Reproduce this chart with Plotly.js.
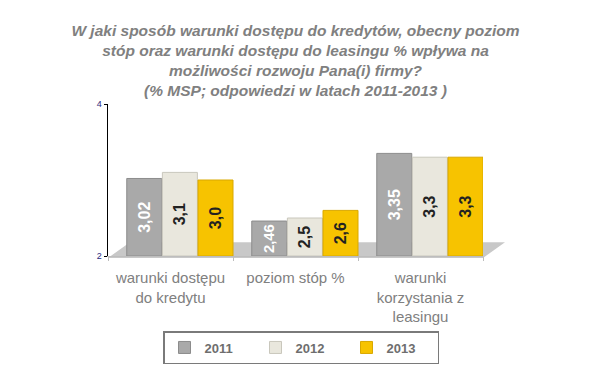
<!DOCTYPE html>
<html><head><meta charset="utf-8">
<script src="https://cdn.plot.ly/plotly-3.0.1.min.js"></script>
<style>html,body{margin:0;padding:0;background:#fff}</style>
</head><body><div id="chart" style="width:600px;height:376px"></div>
<script>
const categories = ['warunki dostępu<br>do kredytu', 'poziom stóp %', 'warunki<br>korzystania z<br>leasingu'];
const series = ['2011', '2012', '2013'];
const labels2011 = ['3,02', '2,46', '3,35'];
const labels2012 = ['3,1', '2,5', '3,3'];
const labels2013 = ['3,0', '2,6', '3,3'];
const yTicks = [2, 4];
const axisBase = 2;

const num = s => parseFloat(s.replace(',', '.'));
const colors = ['#a9a9a9', '#e9e7dd', '#f7c300'];
const lines = ['#8c8c8c', '#c9c7bc', '#d9a800'];
const textColors = ['#ffffff', '#222222', '#222222'];
const offsets = [-0.35, -0.065, 0.22];
const allLabels = [labels2011, labels2012, labels2013];

const traces = series.map((name, i) => ({
  type: 'bar', name: name, x: categories,
  base: axisBase,
  y: allLabels[i].map(s => num(s) - axisBase), text: allLabels[i],
  textposition: 'inside', insidetextanchor: 'middle', textangle: -90,
  textfont: {family: 'Liberation Sans, Arial, sans-serif', size: 16, color: textColors[i], weight: 'bold'},
  marker: {color: colors[i], line: {color: lines[i], width: 1}},
  width: 0.28, offset: offsets[i], hoverinfo: 'skip'
}));

const T = 104, B = 118, H = 376 - T - B;
const px = v => (v - 108) / 375, py = v => (376 - B - v) / H;
const floor = `M ${px(108)} ${py(260)} L ${px(483)} ${py(260)} L ${px(505)} ${py(244)} L ${px(130)} ${py(244)} Z`;

const layout = {
  width: 600, height: 376,
  margin: {l: 108, r: 117, t: T, b: B},
  paper_bgcolor: '#ffffff', plot_bgcolor: 'rgba(0,0,0,0)',
  title: {
    text: 'W jaki sposób warunki dostępu do kredytów, obecny poziom<br>stóp oraz warunki dostępu do leasingu % wpływa na<br>możliwości rozwoju Pana(i) firmy?<br>(% MSP; odpowiedzi w latach 2011-2013 )',
    font: {family: 'Liberation Sans, Arial, sans-serif', size: 15.5, color: '#808080', weight: 'bold', style: 'italic'},
    x: 0.5, xanchor: 'center', y: 0.905, yanchor: 'top', xref: 'paper'
  },
  barmode: 'group', showlegend: true,
  xaxis: {
    type: 'category', showgrid: false, zeroline: false,
    showline: true, linecolor: '#bdbdbd', linewidth: 1,
    ticks: 'outside', tickson: 'boundaries', ticklen: 4, tickcolor: '#bdbdbd',
    ticklabelstandoff: 8,
    tickfont: {family: 'Liberation Sans, Arial, sans-serif', size: 15, color: '#808080'},
    fixedrange: true
  },
  yaxis: {
    range: [2, 4], tickvals: yTicks, ticktext: yTicks.map(String),
    showgrid: false, zeroline: false, showline: true, linecolor: '#000000', linewidth: 1.5,
    ticks: 'outside', ticklen: 3, tickcolor: '#000000', tickwidth: 1,
    tickfont: {family: 'Liberation Sans, Arial, sans-serif', size: 9, color: '#2a2a80'},
    fixedrange: true
  },
  shapes: [{type: 'path', xref: 'paper', yref: 'paper', path: floor, fillcolor: '#c8c8c8', line: {width: 0}, layer: 'below'}],
  legend: {
    orientation: 'h', x: px(163), xanchor: 'left', y: py(334), yanchor: 'top',
    bordercolor: '#7a7a7a', borderwidth: 1.5, bgcolor: '#ffffff',
    entrywidth: 46, entrywidthmode: 'pixels', traceorder: 'normal',
    font: {family: 'Liberation Sans, Arial, sans-serif', size: 13, color: '#6e6e6e', weight: 'bold'}
  }
};

Plotly.newPlot('chart', traces, layout, {displayModeBar: false, staticPlot: true});
</script></body></html>
